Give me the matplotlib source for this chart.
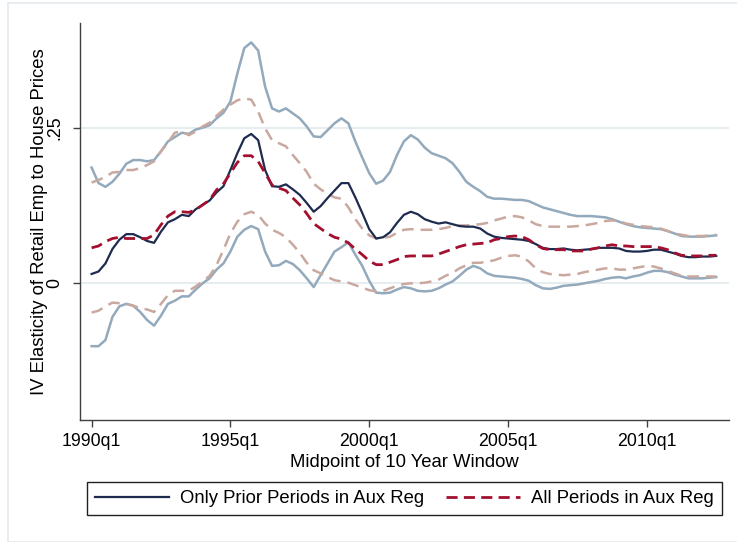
#!/usr/bin/env python3

import matplotlib
matplotlib.use('Agg')
import matplotlib.pyplot as plt
import numpy as np

from matplotlib.patches import Rectangle

plt.rcParams['font.family'] = ['Liberation Sans', 'DejaVu Sans']
plt.rcParams['lines.scale_dashes'] = False

# quarterly windows, first point is 1990q1
TICK_POS = [0, 20, 40, 60, 80]
TICK_LABELS = ['1990q1', '1995q1', '2000q1', '2005q1', '2010q1']

# Only prior periods in aux reg: estimate and 95% band
prior = [
  0.015, 0.019, 0.032, 0.055, 0.070, 0.079, 0.079, 0.074, 0.068, 0.065,
  0.083, 0.098, 0.103, 0.110, 0.108, 0.119, 0.126, 0.133, 0.146, 0.156,
  0.182, 0.209, 0.233, 0.240, 0.230, 0.182, 0.156, 0.155, 0.159, 0.151,
  0.142, 0.129, 0.115, 0.124, 0.137, 0.149, 0.161, 0.161, 0.138, 0.113,
  0.087, 0.072, 0.074, 0.082, 0.097, 0.110, 0.115, 0.111, 0.103, 0.099,
  0.096, 0.098, 0.095, 0.092, 0.091, 0.091, 0.088, 0.080, 0.075, 0.073,
  0.072, 0.071, 0.070, 0.068, 0.063, 0.057, 0.055, 0.055, 0.056, 0.054,
  0.053, 0.054, 0.055, 0.057, 0.057, 0.057, 0.056, 0.052, 0.051, 0.051,
  0.052, 0.054, 0.054, 0.051, 0.048, 0.044, 0.042, 0.042, 0.043, 0.043,
  0.044]
prior_hi = [
  0.186, 0.161, 0.155, 0.163, 0.176, 0.192, 0.198, 0.198, 0.196, 0.198,
  0.212, 0.228, 0.235, 0.242, 0.240, 0.247, 0.250, 0.254, 0.265, 0.274,
  0.292, 0.337, 0.378, 0.387, 0.374, 0.316, 0.281, 0.276, 0.281, 0.273,
  0.265, 0.252, 0.236, 0.235, 0.246, 0.257, 0.265, 0.257, 0.228, 0.202,
  0.177, 0.160, 0.165, 0.179, 0.206, 0.228, 0.238, 0.231, 0.218, 0.209,
  0.205, 0.201, 0.193, 0.179, 0.163, 0.155, 0.148, 0.139, 0.136, 0.136,
  0.135, 0.134, 0.134, 0.132, 0.127, 0.122, 0.119, 0.116, 0.113, 0.110,
  0.108, 0.108, 0.108, 0.107, 0.106, 0.103, 0.099, 0.095, 0.092, 0.090,
  0.089, 0.088, 0.087, 0.084, 0.080, 0.076, 0.075, 0.075, 0.075, 0.076,
  0.077]
prior_lo = [
  -0.101, -0.101, -0.091, -0.054, -0.037, -0.033, -0.036, -0.046, -0.059, -0.068,
  -0.052, -0.033, -0.028, -0.021, -0.021, -0.010, 0.000, 0.008, 0.022, 0.032,
  0.051, 0.075, 0.086, 0.092, 0.087, 0.051, 0.028, 0.029, 0.036, 0.031,
  0.021, 0.008, -0.006, 0.013, 0.032, 0.051, 0.058, 0.066, 0.046, 0.028,
  0.004, -0.015, -0.016, -0.015, -0.010, -0.006, -0.008, -0.012, -0.013, -0.012,
  -0.008, -0.002, 0.003, 0.012, 0.022, 0.028, 0.024, 0.016, 0.012, 0.011,
  0.010, 0.009, 0.007, 0.004, -0.003, -0.008, -0.009, -0.007, -0.004, -0.003,
  -0.002, 0.000, 0.002, 0.004, 0.007, 0.009, 0.010, 0.008, 0.011, 0.013,
  0.017, 0.020, 0.020, 0.018, 0.014, 0.011, 0.008, 0.008, 0.008, 0.009,
  0.010]

# All periods in aux reg: estimate and 95% band
allp = [
  0.057, 0.060, 0.067, 0.072, 0.074, 0.072, 0.072, 0.072, 0.072, 0.078,
  0.094, 0.108, 0.115, 0.115, 0.114, 0.118, 0.126, 0.134, 0.150, 0.160,
  0.177, 0.194, 0.205, 0.205, 0.196, 0.177, 0.158, 0.153, 0.149, 0.137,
  0.126, 0.112, 0.096, 0.088, 0.080, 0.074, 0.071, 0.065, 0.055, 0.046,
  0.036, 0.030, 0.030, 0.034, 0.038, 0.043, 0.044, 0.044, 0.044, 0.044,
  0.047, 0.051, 0.055, 0.059, 0.062, 0.063, 0.064, 0.065, 0.070, 0.072,
  0.075, 0.076, 0.075, 0.070, 0.062, 0.056, 0.054, 0.054, 0.054, 0.052,
  0.052, 0.052, 0.055, 0.057, 0.060, 0.062, 0.060, 0.060, 0.059, 0.059,
  0.059, 0.059, 0.057, 0.054, 0.049, 0.045, 0.044, 0.044, 0.044, 0.045,
  0.045]
allp_hi = [
  0.162, 0.166, 0.171, 0.178, 0.179, 0.182, 0.182, 0.185, 0.190, 0.196,
  0.212, 0.226, 0.242, 0.244, 0.238, 0.244, 0.252, 0.258, 0.269, 0.279,
  0.287, 0.294, 0.297, 0.295, 0.276, 0.249, 0.230, 0.225, 0.220, 0.206,
  0.193, 0.179, 0.160, 0.151, 0.144, 0.138, 0.136, 0.122, 0.103, 0.088,
  0.077, 0.072, 0.073, 0.075, 0.081, 0.086, 0.087, 0.086, 0.086, 0.086,
  0.087, 0.089, 0.092, 0.093, 0.093, 0.094, 0.095, 0.097, 0.101, 0.104,
  0.107, 0.108, 0.106, 0.101, 0.095, 0.092, 0.091, 0.091, 0.091, 0.091,
  0.092, 0.093, 0.095, 0.097, 0.100, 0.101, 0.100, 0.096, 0.094, 0.092,
  0.091, 0.090, 0.088, 0.084, 0.080, 0.078, 0.076, 0.076, 0.076, 0.077,
  0.078]
allp_lo = [
  -0.047, -0.044, -0.037, -0.031, -0.032, -0.033, -0.036, -0.040, -0.042, -0.046,
  -0.033, -0.019, -0.012, -0.012, -0.012, -0.005, 0.003, 0.012, 0.029, 0.054,
  0.080, 0.099, 0.111, 0.115, 0.110, 0.096, 0.086, 0.081, 0.074, 0.062,
  0.049, 0.033, 0.021, 0.016, 0.010, 0.005, 0.003, 0.001, -0.003, -0.007,
  -0.011, -0.013, -0.012, -0.008, -0.004, -0.001, 0.000, 0.000, 0.001, 0.003,
  0.006, 0.012, 0.017, 0.024, 0.029, 0.033, 0.033, 0.035, 0.037, 0.041,
  0.044, 0.045, 0.043, 0.035, 0.024, 0.018, 0.015, 0.014, 0.013, 0.014,
  0.015, 0.018, 0.020, 0.022, 0.024, 0.024, 0.022, 0.022, 0.024, 0.026,
  0.028, 0.027, 0.024, 0.020, 0.016, 0.012, 0.011, 0.011, 0.011, 0.011,
  0.011]

NAVY = '#1e2b4f'
BLUEGRAY = '#93a9bc'
CRANBERRY = '#a3102f'
ROSE = '#c9a99f'
AXIS = '#404040'


def graph(filename):
  W, H = 737, 542
  fig = plt.figure(figsize=(W / 100, H / 100), dpi=100)
  fig.patch.set_facecolor('white')

  # faint outer frame like the stata export
  fig.add_artist(Rectangle((8 / W, 0.5 / H), 1.2, (H - 3.5) / H, transform=fig.transFigure,
                           fill=False, edgecolor='#e3eaee', linewidth=1.2))

  ax = fig.add_axes([80 / W, 1 - 420 / H, (729 - 80) / W, (420 - 22.7) / H])
  x = np.arange(len(prior))

  ax.plot(x, prior_hi, color=BLUEGRAY, linewidth=1.8, zorder=2)
  ax.plot(x, prior_lo, color=BLUEGRAY, linewidth=1.8, zorder=2)
  ax.plot(x, allp_hi, color=ROSE, linewidth=1.8, dashes=(8.5, 5), zorder=2)
  ax.plot(x, allp_lo, color=ROSE, linewidth=1.8, dashes=(8.5, 5), zorder=2)
  l1, = ax.plot(x, prior, color=NAVY, linewidth=1.6, zorder=3)
  l2, = ax.plot(x, allp, color=CRANBERRY, linewidth=2.0, dashes=(8, 4.5), zorder=4)

  ax.set_xlim(-1.67, 91.84)
  ax.set_ylim(-0.2196, 0.4187)
  ax.set_xticks(TICK_POS, TICK_LABELS)
  ax.set_yticks([0, 0.25], ['0', '.25'])
  plt.setp(ax.get_yticklabels(), rotation=90, va='center')
  ax.tick_params(axis='x', length=5, width=1.0, color=AXIS, pad=4.5, labelsize=12.8)
  ax.tick_params(axis='y', length=5, width=1.0, color=AXIS, pad=7, labelsize=12.8)

  ax.grid(axis='y', color='#e4ecef', linewidth=1.3)
  ax.set_axisbelow(True)
  for side in ('top', 'right'):
    ax.spines[side].set_visible(False)
  for side in ('left', 'bottom'):
    ax.spines[side].set_color(AXIS)
    ax.spines[side].set_linewidth(1.0)

  ax.set_xlabel('Midpoint of 10 Year Window', fontsize=13.3, labelpad=3)
  ax.set_ylabel('IV Elasticity of Retail Emp to House Prices', fontsize=13.3, labelpad=-1)

  leg = fig.legend([l1, l2], ['Only Prior Periods in Aux Reg', 'All Periods in Aux Reg'],
                   loc='center', ncol=2, mode='expand',
                   bbox_to_anchor=(87 / W, 1 - 516 / H, 635 / W, 35 / H),
                   fontsize=13.3, handlelength=4.0, handletextpad=0.6,
                   borderpad=0.45, borderaxespad=0, fancybox=False, framealpha=1)
  leg.get_frame().set_edgecolor('#222222')
  leg.get_frame().set_linewidth(1.0)

  fig.savefig(filename, dpi=100, facecolor='white')
  plt.close(fig)
  return filename


def main():
  graph('out.png')


if __name__ == '__main__':
  main()
